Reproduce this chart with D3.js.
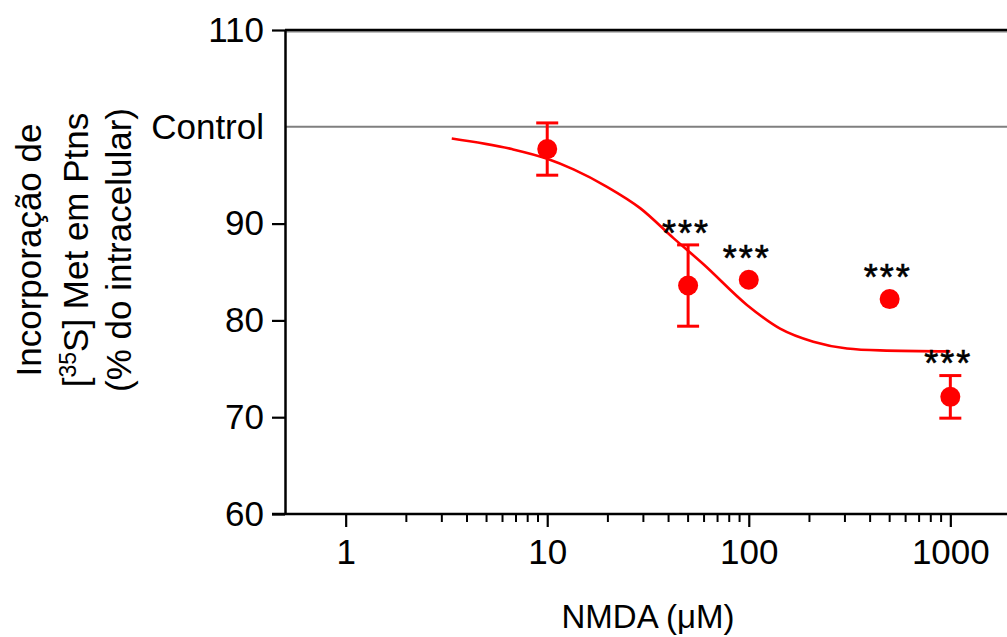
<!DOCTYPE html>
<html>
<head>
<meta charset="utf-8">
<script src="https://cdn.jsdelivr.net/npm/d3@7"></script>
<style>
  html, body { margin: 0; padding: 0; background: #fff; }
  svg { display: block; font-family: "Liberation Sans", Arial, sans-serif; }
</style>
</head>
<body>
<svg id="chart" width="1007" height="637"></svg>
<script>
// NMDA concentrations (µM) and measured incorporation (% of intracellular control)
const concentrations = [10, 50, 100, 500, 1000];
const meanValues     = [97.7, 83.6, 84.2, 82.2, 72.1];
const semValues      = [2.7, 4.2, 0.8, 0.6, 2.2];
const significance   = ["", "***", "***", "***", "***"];

// Fitted dose–response curve, sampled along the concentration axis
const fitConc   = [3.36, 6.67, 10, 13.5, 19.8, 28.9, 42.3, 59.6, 97.9, 143, 209, 307, 449, 1000];
const fitValues = [98.8, 97.7, 96.7, 95.6, 93.8, 91.6, 88.5, 85.8, 81.6, 79.15, 77.8, 77.1, 76.9, 76.8];

// Axis ticks
const xMajorTicks = [1, 10, 100, 1000];
const xTickLabels = ["1", "10", "100", "1000"];
const yTicks      = [60, 70, 80, 90, 110];
const controlValue = 100;
const controlLabel = "Control";

const svg = d3.select("#chart");
const red = "#ff0000";
const tickFont = 35;

const x = d3.scaleLog().domain([0.5, 2000]).range([285, 1011]);
const y = d3.scaleLinear().domain([60, 110]).range([514, 30]);

// minor ticks 2..9 within each decade
const xMinorTicks = [];
[1, 10, 100].forEach(d => { for (let k = 2; k <= 9; k++) xMinorTicks.push(d * k); });

// top frame line (black with a grey gridline beneath)
svg.append("line")
  .attr("x1", x(0.5)).attr("x2", 1007)
  .attr("y1", y(110) + 1.8).attr("y2", y(110) + 1.8)
  .attr("stroke", "#808080").attr("stroke-width", 1.3);
svg.append("line")
  .attr("x1", x(0.5)).attr("x2", 1007)
  .attr("y1", y(110)).attr("y2", y(110))
  .attr("stroke", "#000").attr("stroke-width", 2.4);

// control reference line
svg.append("line")
  .attr("x1", x(0.5)).attr("x2", 1007)
  .attr("y1", y(controlValue)).attr("y2", y(controlValue))
  .attr("stroke", "#7f7f7f").attr("stroke-width", 2);

// X axis
const xAxis = svg.append("g").attr("transform", `translate(0,${y(60)})`);
xAxis.call(d3.axisBottom(x).tickValues(xMajorTicks).tickFormat((d, i) => xTickLabels[i])
      .tickSize(13).tickPadding(12).tickSizeOuter(0));
xAxis.select(".domain").attr("stroke-width", 2.5).attr("d", `M${x(0.5) - 13},0H1007`);
xAxis.selectAll(".tick line").attr("stroke-width", 2.2);
xAxis.selectAll(".tick text").attr("font-size", tickFont).attr("fill", "#000")
  .attr("font-family", "Liberation Sans, Arial, sans-serif").attr("dy", "0.71em");

const xMinor = svg.append("g").attr("transform", `translate(0,${y(60)})`);
xMinor.selectAll("line").data(xMinorTicks).join("line")
  .attr("x1", d => x(d)).attr("x2", d => x(d))
  .attr("y1", 0).attr("y2", 8)
  .attr("stroke", "#000").attr("stroke-width", 2);

// Y axis
const yAxis = svg.append("g").attr("transform", `translate(${x(0.5)},0)`);
yAxis.call(d3.axisLeft(y).tickValues(yTicks).tickSize(13).tickPadding(8).tickSizeOuter(0));
yAxis.select(".domain").attr("stroke-width", 2.5);
yAxis.selectAll(".tick line").attr("stroke-width", 2.2);
yAxis.selectAll(".tick text").attr("font-size", tickFont).attr("fill", "#000")
  .attr("font-family", "Liberation Sans, Arial, sans-serif");

// Control label on the y axis
svg.append("text")
  .attr("x", x(0.5) - 21).attr("y", y(controlValue))
  .attr("dy", "0.35em").attr("text-anchor", "end")
  .attr("font-size", tickFont).text(controlLabel);

// axis titles
svg.append("text")
  .attr("x", 648).attr("y", 628)
  .attr("text-anchor", "middle").attr("font-size", 33)
  .text("NMDA (\u03BCM)");

const yTitle = svg.append("text")
  .attr("transform", "translate(0,250) rotate(-90)")
  .attr("text-anchor", "middle").attr("font-size", 35);
yTitle.append("tspan").attr("x", 0).attr("y", 41).text("Incorporação de");
const l2 = yTitle.append("tspan").attr("x", 0).attr("y", 88);
l2.append("tspan").text("[");
l2.append("tspan").attr("font-size", 23).attr("dy", -12).text("35");
l2.append("tspan").attr("dy", 12).text("S] Met em Ptns");
yTitle.append("tspan").attr("x", 0).attr("y", 131).text("(% do intracelular)");

// fitted curve
const fitData = fitConc.map((c, i) => ({ c, v: fitValues[i] }));
svg.append("path")
  .datum(fitData)
  .attr("fill", "none").attr("stroke", red).attr("stroke-width", 2.6)
  .attr("d", d3.line().x(d => x(d.c)).y(d => y(d.v)).curve(d3.curveMonotoneX));

// data points
const r = 10;
const pts = concentrations.map((c, i) => ({ c, m: meanValues[i], s: semValues[i], sig: significance[i] }));
const capHalf = 11;

const eb = svg.append("g").selectAll("g")
  .data(pts.filter(d => y(d.m) - y(d.m + d.s) > r)).join("g");
eb.append("line")
  .attr("x1", d => x(d.c)).attr("x2", d => x(d.c))
  .attr("y1", d => y(d.m + d.s)).attr("y2", d => y(d.m - d.s))
  .attr("stroke", red).attr("stroke-width", 3);
eb.append("line")
  .attr("x1", d => x(d.c) - capHalf).attr("x2", d => x(d.c) + capHalf)
  .attr("y1", d => y(d.m + d.s)).attr("y2", d => y(d.m + d.s))
  .attr("stroke", red).attr("stroke-width", 3);
eb.append("line")
  .attr("x1", d => x(d.c) - capHalf).attr("x2", d => x(d.c) + capHalf)
  .attr("y1", d => y(d.m - d.s)).attr("y2", d => y(d.m - d.s))
  .attr("stroke", red).attr("stroke-width", 3);

svg.append("g").selectAll("circle").data(pts).join("circle")
  .attr("cx", d => x(d.c)).attr("cy", d => y(d.m)).attr("r", r)
  .attr("fill", red);

// significance markers above each point (above the error bar or the symbol)
const starFont = 36;
svg.append("g").selectAll("text").data(pts.filter(d => d.sig)).join("text")
  .attr("x", d => x(d.c) - 2)
  .attr("y", d => Math.min(y(d.m + d.s), y(d.m) - r) - 15 + 0.44 * starFont)
  .attr("text-anchor", "middle").attr("font-size", starFont)
  .attr("letter-spacing", 2)
  .attr("stroke", "#000").attr("stroke-width", 0.6)
  .text(d => d.sig);
</script>
</body>
</html>
